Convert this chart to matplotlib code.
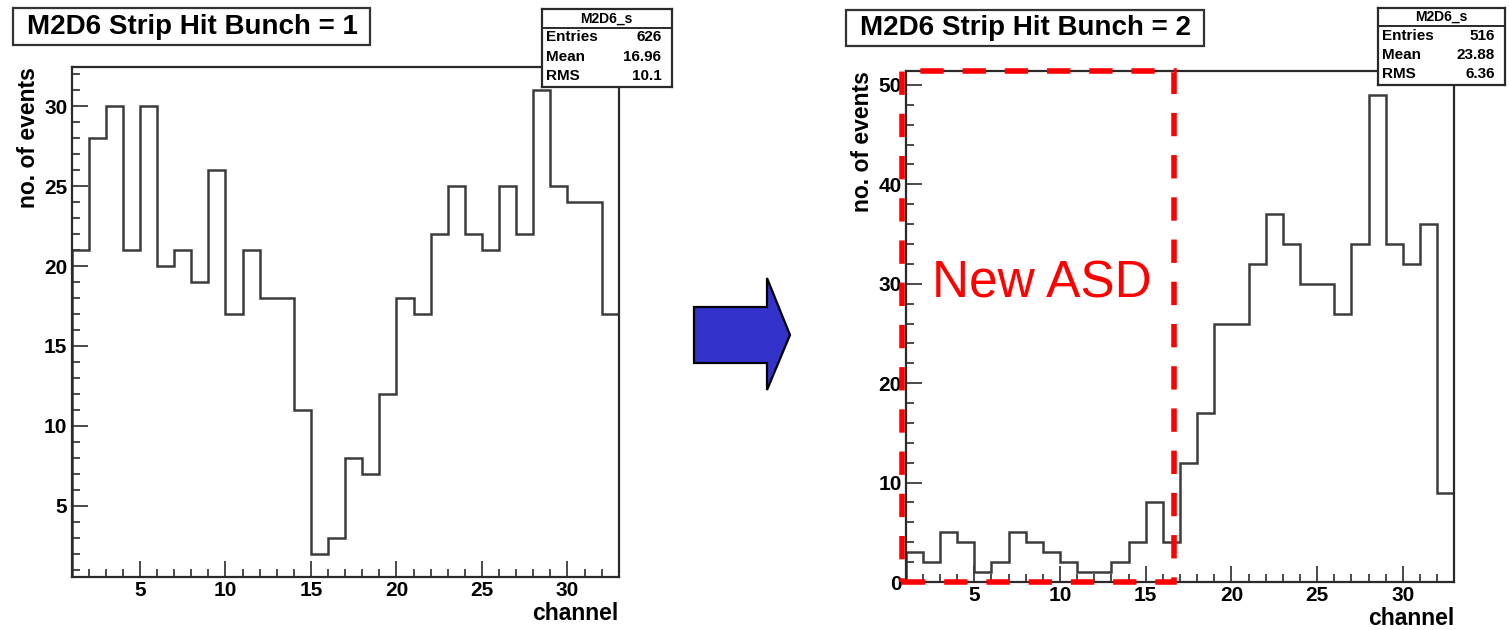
import numpy as np
import matplotlib
matplotlib.use("Agg")
import matplotlib.pyplot as plt
from matplotlib.patches import Rectangle, Polygon
from matplotlib.ticker import MultipleLocator

plt.rcParams["font.family"] = ["Liberation Sans", "DejaVu Sans"]
plt.rcParams["font.weight"] = "bold"
plt.rcParams["axes.labelweight"] = "bold"

# strip hit counts per channel (32 channels, bin k spans [k, k+1])
channel_edges = np.arange(1, 34)
bunch1_counts = [21, 28, 30, 21, 30, 20, 21, 19, 26, 17, 21, 18, 18, 11, 2, 3,
                 8, 7, 12, 18, 17, 22, 25, 22, 21, 25, 22, 31, 25, 24, 24, 17]
bunch2_counts = [3, 2, 5, 4, 1, 2, 5, 4, 3, 2, 1, 1, 2, 4, 8, 4,
                 12, 17, 26, 26, 32, 37, 34, 30, 30, 27, 34, 49, 34, 32, 36, 9]

titles = ["M2D6 Strip Hit Bunch = 1", "M2D6 Strip Hit Bunch = 2"]
hist_name = "M2D6_s"
stat_names = ["Entries", "Mean", "RMS"]
bunch1_stats = ["626", "16.96", "10.1"]
bunch2_stats = ["516", "23.88", "6.36"]

# channels swapped to the new ASD board
asd_range = (0.79, 16.67)
asd_label = "New ASD"

W, H = 1509, 630
LINE = "#3c3c3c"


def frect(x0, y0, x1, y1):
    """pixel box (y measured from the top) -> figure fraction rect"""
    return [x0 / W, 1 - y1 / H, (x1 - x0) / W, (y1 - y0) / H]


def root_range(counts):
    lo, hi = min(counts), max(counts)
    m = 0.05 * (hi - lo)
    ymin = lo - m
    if ymin < 0 and lo >= 0:
        ymin = 0
    return ymin, hi + m


def draw_hist(ax, counts, ymajor, yminor):
    ax.stairs(counts, channel_edges, color=LINE, lw=1.8)
    ax.set_xlim(channel_edges[0], channel_edges[-1])
    ax.set_ylim(*root_range(counts))
    ax.xaxis.set_major_locator(MultipleLocator(5))
    ax.xaxis.set_minor_locator(MultipleLocator(1))
    ax.yaxis.set_major_locator(MultipleLocator(ymajor))
    ax.yaxis.set_minor_locator(MultipleLocator(yminor))
    ax.tick_params(which="both", direction="in", top=False, right=False,
                   color=LINE, width=1.3)
    ax.tick_params(which="major", length=11.5, labelsize=15, pad=3)
    ax.tick_params(which="minor", length=6)
    for s in ax.spines.values():
        s.set_linewidth(1.6)
        s.set_color("#2a2a2a")
    ax.set_xlabel("channel", fontsize=16.5, loc="right", labelpad=1)
    ax.set_ylabel("no. of events", fontsize=16.5, loc="top", labelpad=3)


def draw_title(fig, box, text):
    x0, y0, x1, y1 = box
    fig.add_artist(Rectangle((x0 / W, 1 - y1 / H), (x1 - x0) / W, (y1 - y0) / H,
                             transform=fig.transFigure, fc="white",
                             ec="#333333", lw=1.6))
    fig.text((x0 + 14.5) / W, 1 - (y0 + y1) / 2 / H, text, fontsize=20,
             ha="left", va="center")


def draw_stats(fig, box, values):
    sax = fig.add_axes(frect(*box), zorder=10)
    sax.set_xticks([])
    sax.set_yticks([])
    sax.set_xlim(0, 1)
    sax.set_ylim(0, 1)
    for s in sax.spines.values():
        s.set_linewidth(1.6)
        s.set_color("#2a2a2a")
    sax.axhline(0.76, color="#2a2a2a", lw=1.4)
    sax.text(0.5, 0.885, hist_name, fontsize=10, ha="center", va="center")
    for name, val, y in zip(stat_names, values, [0.64, 0.385, 0.14]):
        sax.text(0.035, y, name, fontsize=11, ha="left", va="center")
        sax.text(0.92, y, val, fontsize=11, ha="right", va="center")


fig = plt.figure(figsize=(W / 100, H / 100), dpi=100)

ax1 = fig.add_axes(frect(71.6, 67, 618.8, 577))
draw_hist(ax1, bunch1_counts, 5, 1)
draw_title(fig, (12.7, 8.3, 370, 45), titles[0])
draw_stats(fig, (541.7, 9.3, 671.7, 87.3), bunch1_stats)

ax2 = fig.add_axes(frect(905.7, 71, 1454.3, 582))
draw_hist(ax2, bunch2_counts, 10, 2)
draw_title(fig, (846, 10, 1204, 46), titles[1])
draw_stats(fig, (1378, 8, 1505, 85), bunch2_stats)

# dashed box marking the new ASD channels
ax2.add_patch(Rectangle((asd_range[0], 0), asd_range[1] - asd_range[0], 1,
                        transform=ax2.get_xaxis_transform(), fill=False,
                        ec="#ff0000", lw=4.0, ls=(0, (4.2, 3.4)),
                        clip_on=False, zorder=6))
ax2.text(sum(asd_range) / 2 + 0.2, 28.6, asd_label, color="#ff0000",
         fontsize=37, fontweight="normal", ha="center", va="baseline")

# block arrow between the two panels
arrow_px = [(694, 307), (767, 307), (767, 278), (790, 335),
            (767, 390), (767, 363), (694, 363)]
fig.add_artist(Polygon([(x / W, 1 - y / H) for x, y in arrow_px], closed=True,
                       transform=fig.transFigure, fc="#3333cc", ec="black",
                       lw=1.6))

fig.savefig("out.png", dpi=100)
